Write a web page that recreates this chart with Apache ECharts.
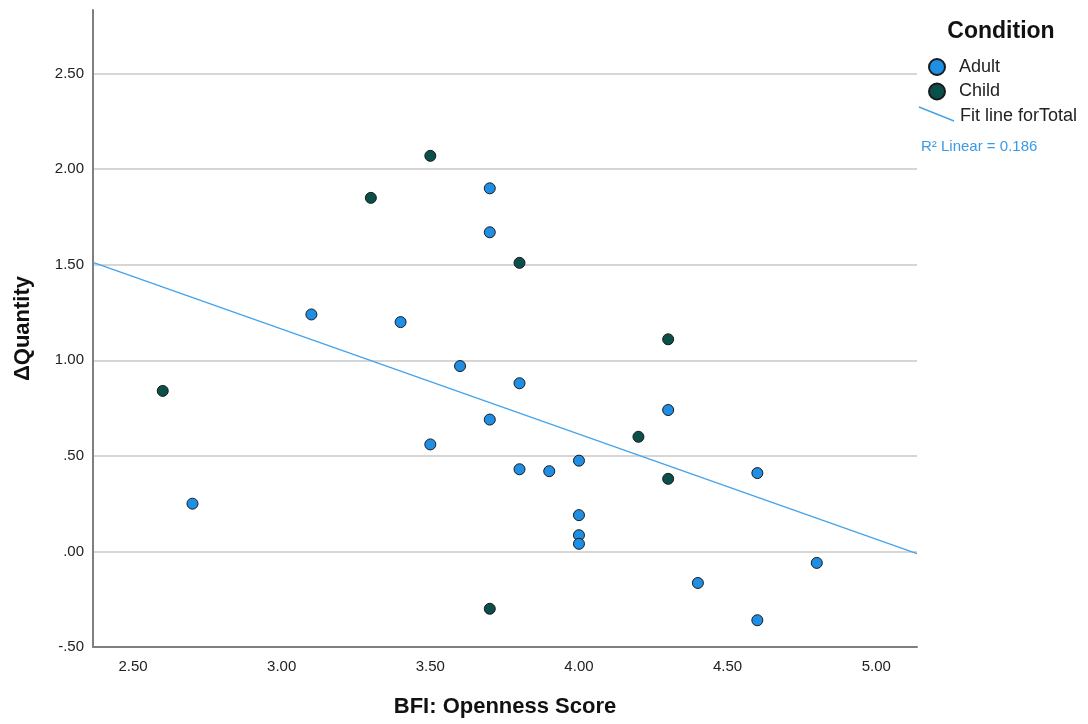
<!DOCTYPE html>
<html>
<head>
<meta charset="utf-8">
<title>BFI Openness vs ΔQuantity</title>
<script src="https://cdn.jsdelivr.net/npm/echarts@6/dist/echarts.min.js"></script>
<style>
  html, body { margin: 0; padding: 0; background: #fff; }
  #chart { width: 1088px; height: 724px; }
</style>
</head>
<body>
<div id="chart"></div>
<script>
// Openness score (x) and change in quantity (y) per participant
const adultPoints = [
  [2.7, 0.25], [3.1, 1.24], [3.4, 1.20], [3.5, 0.56], [3.6, 0.97],
  [3.7, 1.90], [3.7, 1.67], [3.7, 0.69], [3.8, 0.88], [3.8, 0.43],
  [3.9, 0.42], [4.0, 0.475], [4.0, 0.19], [4.0, 0.085], [4.0, 0.04],
  [4.3, 0.74], [4.4, -0.165], [4.6, 0.41], [4.6, -0.36], [4.8, -0.06]
];
const childPoints = [
  [2.6, 0.84], [3.3, 1.85], [3.5, 2.07], [3.8, 1.51], [3.7, -0.30],
  [4.2, 0.60], [4.3, 1.11], [4.3, 0.38]
];
// Linear fit over all participants, endpoints at the axis extent
const fitLine = [[2.3654, 1.512], [5.137, -0.012]];
const xTickValues = [2.5, 3.0, 3.5, 4.0, 4.5, 5.0];
const rSquared = 0.186;

const xRange = [2.3654, 5.137];
const yRange = [-0.5, 2.833];

// SPSS-style number format: drop the leading zero (".50", "-.50")
function spssFmt(v) {
  return v.toFixed(2).replace(/^(-?)0\./, '$1.');
}

const chart = echarts.init(document.getElementById('chart'), null, { renderer: 'canvas' });

const FONT = 'Arial, "Liberation Sans", sans-serif';
const ADULT = '#1f8fe6';
const CHILD = '#0b4f4b';
const FIT = '#45a3ea';

chart.setOption({
  animation: false,
  backgroundColor: '#ffffff',
  textStyle: { fontFamily: FONT },
  grid: { left: 93, right: 171, top: 10, bottom: 77, containLabel: false },
  xAxis: {
    type: 'value',
    min: xRange[0],
    max: xRange[1],
    name: 'BFI: Openness Score',
    nameLocation: 'middle',
    nameGap: 49,
    nameTextStyle: { fontFamily: FONT, fontSize: 22, fontWeight: 'bold', color: '#111' },
    axisLine: { show: true, onZero: false, lineStyle: { color: '#7f7f7f', width: 2 } },
    axisTick: { show: false },
    axisLabel: {
      customValues: xTickValues,
      formatter: v => spssFmt(v),
      margin: 12,
      fontSize: 15,
      color: '#222'
    },
    splitLine: { show: false }
  },
  yAxis: {
    type: 'value',
    min: yRange[0],
    max: yRange[1],
    interval: 0.5,
    name: 'ΔQuantity',
    nameLocation: 'middle',
    nameGap: 59,
    nameRotate: 90,
    nameTextStyle: { fontFamily: FONT, fontSize: 22, fontWeight: 'bold', color: '#111' },
    axisLine: { show: true, onZero: false, lineStyle: { color: '#7f7f7f', width: 2 } },
    axisTick: { show: false },
    axisLabel: {
      formatter: v => spssFmt(v),
      showMaxLabel: false,
      margin: 9,
      fontSize: 15,
      color: '#222'
    },
    splitLine: {
      show: true,
      showMinLine: false,
      showMaxLine: false,
      lineStyle: { color: '#c9c9c9', width: 1.5 }
    }
  },
  legend: {
    orient: 'vertical',
    left: 928,
    top: 58,
    padding: 0,
    itemWidth: 34,
    itemHeight: 16,
    itemGap: 6.5,
    textStyle: { fontFamily: FONT, fontSize: 18, color: '#222' },
    data: [
      { name: 'Adult', icon: 'circle' },
      { name: 'Child', icon: 'circle' }
    ]
  },
  graphic: [
    {
      type: 'text',
      x: 1001, y: 32,
      style: { text: 'Condition', font: 'bold 23px ' + FONT, fill: '#111', align: 'center', verticalAlign: 'middle' }
    },
    {
      type: 'line',
      shape: { x1: 919, y1: 107, x2: 954, y2: 121 },
      style: { stroke: FIT, lineWidth: 1.4 }
    },
    {
      type: 'text',
      x: 960, y: 116,
      style: { text: 'Fit line forTotal', font: '18px ' + FONT, fill: '#222', align: 'left', verticalAlign: 'middle' }
    },
    {
      type: 'text',
      x: 921, y: 147,
      style: { text: 'R² Linear = ' + rSquared.toFixed(3), font: '15px ' + FONT, fill: '#3a9ae4', align: 'left', verticalAlign: 'middle' }
    }
  ],
  series: [
    {
      name: 'Fit line forTotal',
      type: 'line',
      data: fitLine,
      showSymbol: false,
      symbol: 'none',
      silent: true,
      z: 1,
      lineStyle: { color: FIT, width: 1.3 }
    },
    {
      name: 'Adult',
      type: 'scatter',
      data: adultPoints,
      symbol: 'circle',
      symbolSize: 11,
      z: 3,
      itemStyle: { color: ADULT, borderColor: '#1a1a1a', borderWidth: 1, opacity: 1 }
    },
    {
      name: 'Child',
      type: 'scatter',
      data: childPoints,
      symbol: 'circle',
      symbolSize: 11,
      z: 3,
      itemStyle: { color: CHILD, borderColor: '#1a1a1a', borderWidth: 1, opacity: 1 }
    }
  ]
});
</script>
</body>
</html>
